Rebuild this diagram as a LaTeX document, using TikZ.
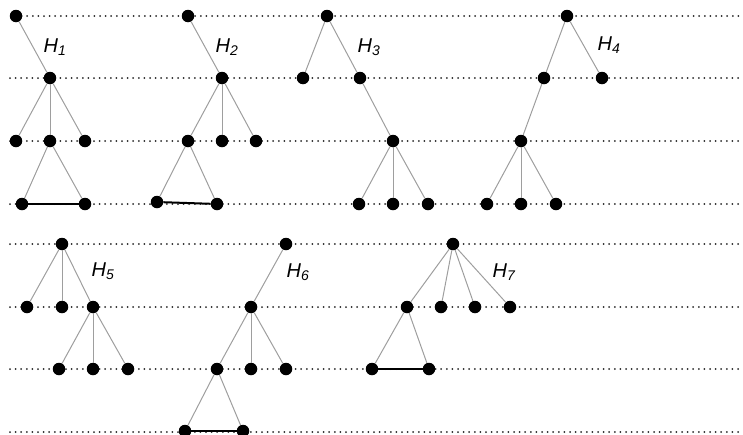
\documentclass[tikz,border=0pt]{standalone}
\usepackage{fontspec}
\setmainfont{Liberation Sans}
\begin{document}
\begin{tikzpicture}[x=1pt,y=-1pt,
  vtx/.style={circle,fill=black,inner sep=0pt,minimum size=12.5pt},
  edge/.style={draw=black!38,line width=1pt},
  bold/.style={draw=black,line width=2pt},
  level/.style={draw=black!85,line width=2pt,line cap=round,dash pattern=on 0pt off 5.6pt},
  lbl/.style={font=\fontsize{20}{24}\selectfont\itshape,inner sep=0pt}]
\useasboundingbox (0,0) rectangle (743,434);
\clip (0,0) rectangle (743,434);

% horizontal level lines
\draw[level] (16,16) -- (743,16);
\foreach \y in {78,141,204,244,307,369,432}
  \draw[level] (10,\y) -- (743,\y);

% H1
\node[vtx] (a1) at (16,16) {};
\node[vtx] (a2) at (50,78) {};
\node[vtx] (a3) at (16,141) {};
\node[vtx] (a4) at (50,141) {};
\node[vtx] (a5) at (85,141) {};
\node[vtx] (a6) at (22,204) {};
\node[vtx] (a7) at (85,204) {};
\draw[edge] (a1) -- (a2);
\draw[edge] (a2) -- (a3);
\draw[edge] (a2) -- (a4);
\draw[edge] (a2) -- (a5);
\draw[edge] (a4) -- (a6);
\draw[edge] (a4) -- (a7);
\draw[bold] (a6) -- (a7);
\node[lbl] (l1) at (55,47) {H\textsubscript{1}};

% H2
\node[vtx] (b1) at (188,16) {};
\node[vtx] (b2) at (222,78) {};
\node[vtx] (b3) at (188,141) {};
\node[vtx] (b4) at (222,141) {};
\node[vtx] (b5) at (256,141) {};
\node[vtx] (b6) at (157,202) {};
\node[vtx] (b7) at (217,204) {};
\draw[edge] (b1) -- (b2);
\draw[edge] (b2) -- (b3);
\draw[edge] (b2) -- (b4);
\draw[edge] (b2) -- (b5);
\draw[edge] (b3) -- (b6);
\draw[edge] (b3) -- (b7);
\draw[bold] (b6) -- (b7);
\node[lbl] (l2) at (227,47) {H\textsubscript{2}};

% H3
\node[vtx] (c1) at (327,16) {};
\node[vtx] (c2) at (303,78) {};
\node[vtx] (c3) at (360,78) {};
\node[vtx] (c4) at (393,141) {};
\node[vtx] (c5) at (359,204) {};
\node[vtx] (c6) at (393,204) {};
\node[vtx] (c7) at (428,204) {};
\draw[edge] (c1) -- (c2);
\draw[edge] (c1) -- (c3);
\draw[edge] (c3) -- (c4);
\draw[edge] (c4) -- (c5);
\draw[edge] (c4) -- (c6);
\draw[edge] (c4) -- (c7);
\node[lbl] (l3) at (369,47) {H\textsubscript{3}};

% H4
\node[vtx] (d1) at (567,16) {};
\node[vtx] (d2) at (544,78) {};
\node[vtx] (d3) at (602,78) {};
\node[vtx] (d4) at (521,141) {};
\node[vtx] (d5) at (487,204) {};
\node[vtx] (d6) at (521,204) {};
\node[vtx] (d7) at (556,204) {};
\draw[edge] (d1) -- (d2);
\draw[edge] (d1) -- (d3);
\draw[edge] (d2) -- (d4);
\draw[edge] (d4) -- (d5);
\draw[edge] (d4) -- (d6);
\draw[edge] (d4) -- (d7);
\node[lbl] (l4) at (609,45) {H\textsubscript{4}};

% H5
\node[vtx] (e1) at (62,244) {};
\node[vtx] (e2) at (27,307) {};
\node[vtx] (e3) at (62,307) {};
\node[vtx] (e4) at (93,307) {};
\node[vtx] (e5) at (59,369) {};
\node[vtx] (e6) at (93,369) {};
\node[vtx] (e7) at (128,369) {};
\draw[edge] (e1) -- (e2);
\draw[edge] (e1) -- (e3);
\draw[edge] (e1) -- (e4);
\draw[edge] (e4) -- (e5);
\draw[edge] (e4) -- (e6);
\draw[edge] (e4) -- (e7);
\node[lbl] (l5) at (103,271) {H\textsubscript{5}};

% H6
\node[vtx] (f1) at (286,244) {};
\node[vtx] (f2) at (251,307) {};
\node[vtx] (f3) at (217,369) {};
\node[vtx] (f4) at (251,369) {};
\node[vtx] (f5) at (286,369) {};
\node[vtx] (f6) at (185,431) {};
\node[vtx] (f7) at (243,431) {};
\draw[edge] (f1) -- (f2);
\draw[edge] (f2) -- (f3);
\draw[edge] (f2) -- (f4);
\draw[edge] (f2) -- (f5);
\draw[edge] (f3) -- (f6);
\draw[edge] (f3) -- (f7);
\draw[bold] (f6) -- (f7);
\node[lbl] (l6) at (298,272) {H\textsubscript{6}};

% H7
\node[vtx] (g1) at (453,244) {};
\node[vtx] (g2) at (407,307) {};
\node[vtx] (g3) at (441,307) {};
\node[vtx] (g4) at (475,307) {};
\node[vtx] (g5) at (510,307) {};
\node[vtx] (g6) at (372,369) {};
\node[vtx] (g7) at (429,369) {};
\draw[edge] (g1) -- (g2);
\draw[edge] (g1) -- (g3);
\draw[edge] (g1) -- (g4);
\draw[edge] (g1) -- (g5);
\draw[edge] (g2) -- (g6);
\draw[edge] (g2) -- (g7);
\draw[bold] (g6) -- (g7);
\node[lbl] (l7) at (504,272) {H\textsubscript{7}};
\end{tikzpicture}
\end{document}
